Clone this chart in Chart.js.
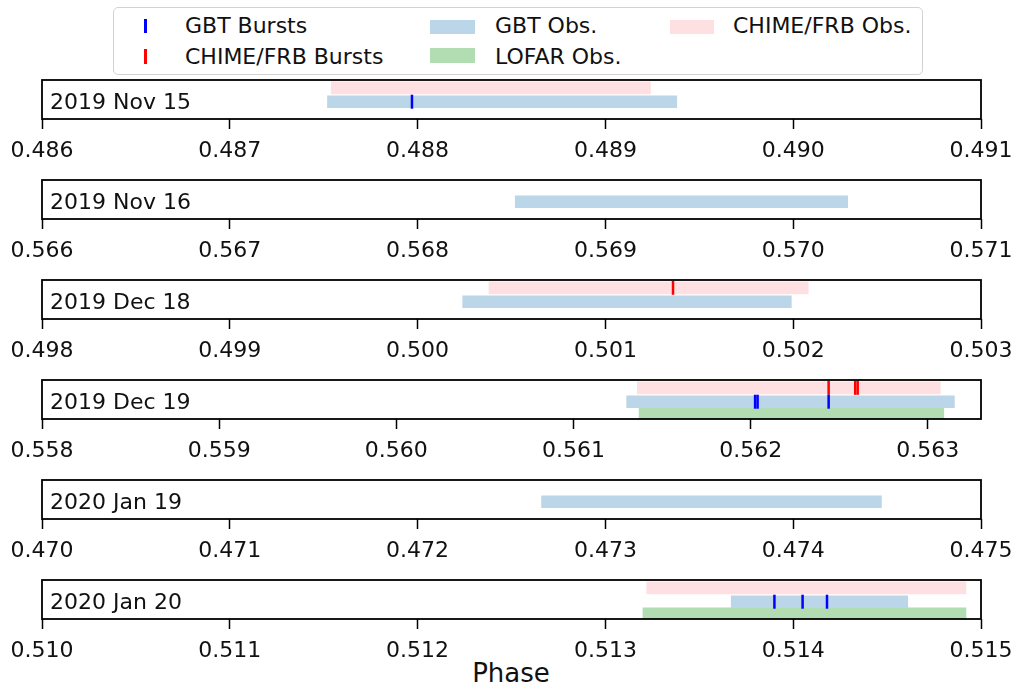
<!DOCTYPE html>
<html>
<head>
<meta charset="utf-8">
<script src="https://cdn.jsdelivr.net/npm/chart.js@4/dist/chart.umd.min.js"></script>
<style>
  body { margin: 0; background: #fff; font-family: 'DejaVu Sans', sans-serif; }
  #page { position: relative; width: 1016px; height: 690px; overflow: hidden; }
  canvas.panel { position: absolute; left: 0; }
  #legend { position: absolute; left: 113px; top: 7px; width: 808px; height: 66px;
            border: 1px solid #d2d2d2; border-radius: 5px; }
  .lg { position: absolute; font-size: 22px; line-height: 22px; color: #111; white-space: nowrap; }
  .mk { position: absolute; }
  #xlabel { position: absolute; left: 0; width: 1022px; top: 658px; text-align: center; font-size: 26px; color: #111; }
</style>
</head>
<body>
<div id="page">
  <div id="legend">
    <div class="mk" style="left:30px;top:11px;width:3px;height:14px;background:#0000ff"></div>
    <div class="mk" style="left:30px;top:41px;width:3px;height:15px;background:#ff0000"></div>
    <div class="lg" style="left:71px;top:7px">GBT Bursts</div>
    <div class="lg" style="left:71px;top:38px">CHIME/FRB Bursts</div>
    <div class="mk" style="left:316px;top:12px;width:45px;height:14px;background:#bcd6e9"></div>
    <div class="mk" style="left:316px;top:40px;width:45px;height:15px;background:#b2dcb2"></div>
    <div class="lg" style="left:381px;top:7px">GBT Obs.</div>
    <div class="lg" style="left:381px;top:38px">LOFAR Obs.</div>
    <div class="mk" style="left:556px;top:12px;width:44px;height:14px;background:#ffe0e2"></div>
    <div class="lg" style="left:619px;top:7px">CHIME/FRB Obs.</div>
  </div>
  <div id="xlabel">Phase</div>
</div>
<script>
// one panel per observing day
const panelLabels = ['2019 Nov 15', '2019 Nov 16', '2019 Dec 18', '2019 Dec 19', '2020 Jan 19', '2020 Jan 20'];
const phaseMin = [0.486, 0.566, 0.498, 0.558, 0.470, 0.510];
const phaseMax = [0.491, 0.571, 0.503, 0.5633, 0.475, 0.515];

// observation windows [start, end] in phase (null = none)
const gbtObs   = [[0.48752, 0.48938], [0.56852, 0.57029], [0.50024, 0.50199], [0.56130, 0.56315], [0.47266, 0.47447], [0.51367, 0.51461]];
const chimeObs = [[0.48754, 0.48924], null, [0.50038, 0.50208], [0.56136, 0.56307], null, [0.51322, 0.51492]];
const lofarObs = [null, null, null, [0.56137, 0.56309], null, [0.51320, 0.51492]];

// burst arrival phases
const gbtBursts   = [[0.48797], [], [], [0.562025, 0.562039, 0.56244], [], [0.51390, 0.51405, 0.51418]];
const chimeBursts = [[], [], [0.50136], [0.56244, 0.56259, 0.562604], [], []];

// tick values (every 0.001 from the panel minimum)
const tickSteps = [0, 1, 2, 3, 4, 5];

// row heights inside each panel (y scale 0..3)
const ROW = { chime: 2.4, gbt: 1.33, lofar: 0.4 };

Chart.defaults.font.family = "'DejaVu Sans', sans-serif";
Chart.defaults.font.size = 22;
Chart.defaults.color = '#111';

const panelBox = {
  id: 'panelBox',
  afterDraw(chart, args, opts) {
    const a = chart.chartArea, c = chart.ctx;
    c.save();
    c.strokeStyle = '#000';
    c.lineWidth = 1.8;
    c.strokeRect(a.left, a.top, a.right - a.left, a.bottom - a.top);
    c.fillStyle = '#111';
    c.font = "22px 'DejaVu Sans', sans-serif";
    c.textBaseline = 'alphabetic';
    c.fillText(opts.label, a.left + 8, a.top + 29);
    c.restore();
  }
};

function obsBar(win, y, color) {
  return {
    type: 'bar', indexAxis: 'y', grouped: false,
    data: win ? [{ x: win, y: y }] : [],
    backgroundColor: color, borderWidth: 0, barThickness: 12
  };
}

function bursts(list, y, color) {
  return {
    type: 'scatter',
    data: list.map(v => ({ x: v, y: y })),
    pointStyle: 'line', pointRotation: 90, pointRadius: 7,
    borderColor: color, pointBorderColor: color, pointBorderWidth: 2.5,
    pointHoverRadius: 7
  };
}

const page = document.getElementById('page');
panelLabels.forEach((label, i) => {
  const cv = document.createElement('canvas');
  cv.className = 'panel';
  cv.width = 1016; cv.height = 100;
  cv.style.top = (77 + 100 * i) + 'px';
  page.appendChild(cv);

  new Chart(cv.getContext('2d'), {
    type: 'bar',
    data: {
      datasets: [
        bursts(gbtBursts[i], ROW.gbt, '#0000ff'),
        bursts(chimeBursts[i], ROW.chime, '#ff0000'),
        obsBar(chimeObs[i], ROW.chime, '#ffe0e2'),
        obsBar(gbtObs[i], ROW.gbt, '#bcd6e9'),
        obsBar(lofarObs[i], ROW.lofar, '#b2dcb2')
      ]
    },
    options: {
      responsive: false,
      animation: false,
      events: [],
      layout: { autoPadding: false, padding: { left: 42, right: 35, top: 3, bottom: 8 } },
      plugins: { legend: { display: false }, tooltip: { enabled: false }, panelBox: { label: label } },
      scales: {
        x: {
          type: 'linear', min: phaseMin[i], max: phaseMax[i], offset: false,
          afterBuildTicks: s => { s.ticks = tickSteps.map(k => ({ value: +(phaseMin[i] + k * 0.001).toFixed(3) })); },
          afterFit: s => { s.height = 50; s.paddingLeft = 0; s.paddingRight = 0; },
          border: { display: false },
          grid: { offset: false, drawOnChartArea: false, drawTicks: true, tickLength: 10, tickColor: '#000', tickWidth: 1.5 },
          ticks: { padding: 9, maxRotation: 0, autoSkip: false, callback: v => v.toFixed(3) }
        },
        y: { type: 'linear', min: 0, max: 3, offset: false, display: false }
      }
    },
    plugins: [panelBox]
  });
});
</script>
</body>
</html>
